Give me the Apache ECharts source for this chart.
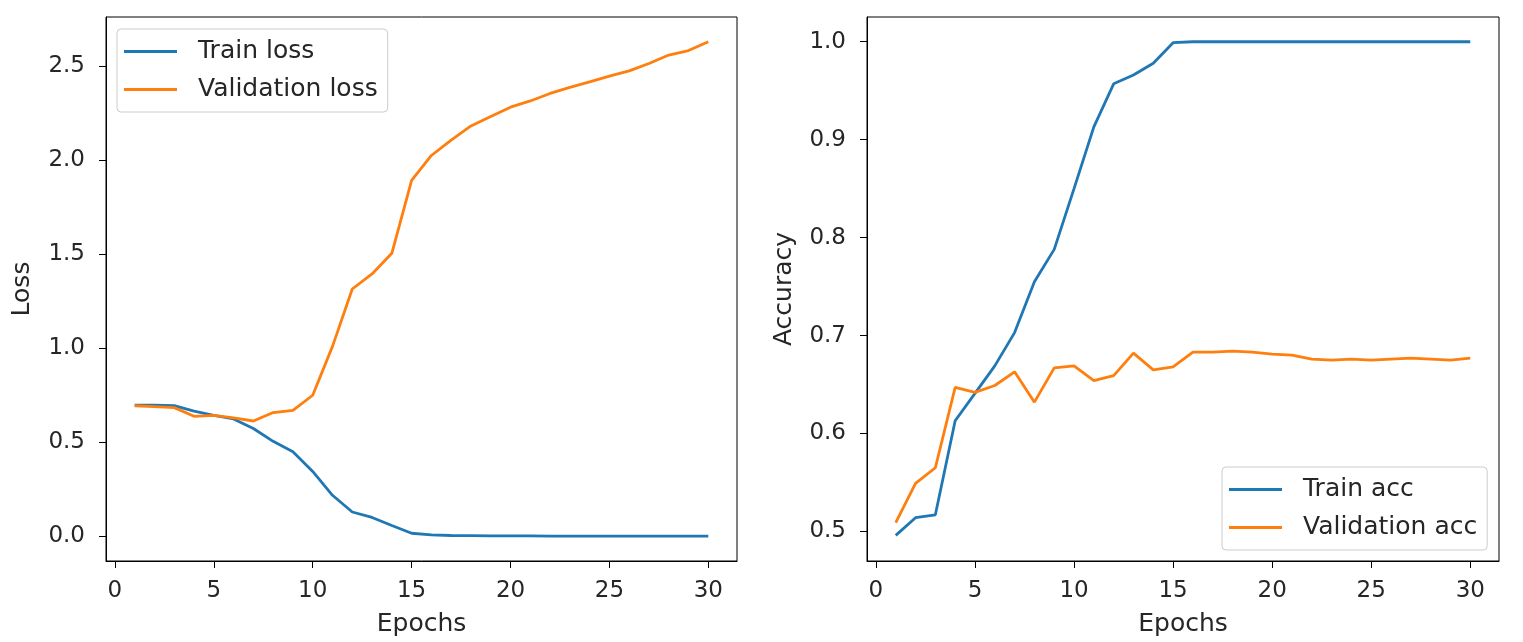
<!DOCTYPE html>
<html>
<head>
<meta charset="utf-8">
<script src="https://cdn.jsdelivr.net/npm/echarts@6/dist/echarts.min.js"></script>
<style>
html,body{margin:0;padding:0;background:#fff;}
#c{width:1523px;height:642px;}
</style>
</head>
<body>
<div id="c"></div>
<script>
const epochs = [1,2,3,4,5,6,7,8,9,10,11,12,13,14,15,16,17,18,19,20,21,22,23,24,25,26,27,28,29,30];
const trainLoss = [0.697,0.697,0.695,0.666,0.643,0.624,0.573,0.505,0.450,0.345,0.218,0.129,0.100,0.057,0.016,0.007,0.004,0.003,0.002,0.002,0.002,0.001,0.001,0.001,0.001,0.001,0.001,0.001,0.001,0.001];
const valLoss = [0.694,0.690,0.684,0.638,0.643,0.630,0.613,0.658,0.670,0.750,1.010,1.315,1.395,1.505,1.893,2.025,2.107,2.182,2.232,2.282,2.315,2.355,2.387,2.417,2.447,2.475,2.514,2.559,2.583,2.630];
const trainAcc = [0.496,0.514,0.517,0.613,0.641,0.669,0.703,0.755,0.788,0.850,0.913,0.957,0.966,0.978,0.999,1.000,1.000,1.000,1.000,1.000,1.000,1.000,1.000,1.000,1.000,1.000,1.000,1.000,1.000,1.000];
const valAcc = [0.509,0.549,0.565,0.647,0.642,0.649,0.663,0.632,0.667,0.669,0.654,0.659,0.682,0.665,0.668,0.683,0.683,0.684,0.683,0.681,0.680,0.676,0.675,0.676,0.675,0.676,0.677,0.676,0.675,0.677];
const xTicks = [0,5,10,15,20,25,30];
const lossTicks = [0.0,0.5,1.0,1.5,2.0,2.5];
const accTicks = [0.5,0.6,0.7,0.8,0.9,1.0];

const FONT = 'DejaVu Sans';
const FS = 23;
const FL = 25;
const TXT = '#262626';
const BLUE = '#1f77b4';
const ORANGE = '#ff7f0e';

function pairs(ys){ return epochs.map((e,i)=>[e, ys[i]]); }

function xAxis(idx){
  return {
    gridIndex: idx, type: 'value', min: -0.45, max: 31.45,
    name: 'Epochs', nameLocation: 'middle', nameGap: 51,
    nameTextStyle: {fontFamily: FONT, fontSize: FL, color: TXT},
    axisLine: {show: true, onZero: false, lineStyle: {color: '#000', width: 1}},
    axisTick: {show: true, length: 7, customValues: xTicks, lineStyle: {color: '#000', width: 1}},
    axisLabel: {customValues: xTicks, margin: 19, fontFamily: FONT, fontSize: FS, color: TXT,
      formatter: v => String(v)},
    splitLine: {show: false}
  };
}
function yAxis(idx, name, min, max, ticks, gap){
  return {
    gridIndex: idx, type: 'value', min: min, max: max,
    name: name, nameLocation: 'middle', nameGap: gap, nameRotate: 90,
    nameTextStyle: {fontFamily: FONT, fontSize: FL, color: TXT},
    axisLine: {show: true, onZero: false, lineStyle: {color: '#000', width: 1}},
    axisTick: {show: true, length: 7, customValues: ticks, lineStyle: {color: '#000', width: 1}},
    axisLabel: {customValues: ticks, margin: 21, fontFamily: FONT, fontSize: FS, color: TXT,
      formatter: v => Number(v).toFixed(1)},
    splitLine: {show: false}
  };
}
function legend(names, left, top){
  return {
    orient: 'vertical', left: left, top: top,
    data: names,
    icon: 'rect', itemWidth: 53, itemHeight: 3, itemGap: 13,
    padding: [10, 10, 10, 7],
    backgroundColor: 'rgba(255,255,255,0.8)',
    borderColor: '#cccccc', borderWidth: 1, borderRadius: 4,
    textStyle: {fontFamily: FONT, fontSize: FL, color: TXT, padding: [0, 0, 0, 16]}
  };
}
function line(name, data, color, xi, yi){
  return {
    name: name, type: 'line', xAxisIndex: xi, yAxisIndex: yi,
    data: pairs(data), showSymbol: false, symbol: 'none',
    lineStyle: {color: color, width: 2.8}, itemStyle: {color: color},
    emphasis: {disabled: true}
  };
}

const chart = echarts.init(document.getElementById('c'), null, {renderer: 'canvas'});
chart.setOption({
  animation: false,
  backgroundColor: '#ffffff',
  grid: [
    {left: 106, width: 631, top: 17, height: 544, show: true, borderColor: '#000', borderWidth: 1, backgroundColor: 'transparent'},
    {left: 867, width: 632, top: 17, height: 544, show: true, borderColor: '#000', borderWidth: 1, backgroundColor: 'transparent'}
  ],
  xAxis: [xAxis(0), xAxis(1)],
  yAxis: [
    yAxis(0, 'Loss', -0.1315, 2.7615, lossTicks, 71),
    yAxis(1, 'Accuracy', 0.4698, 1.02525, accTicks, 70)
  ],
  legend: [
    legend(['Train loss', 'Validation loss'], 117, 29),
    legend(['Train acc', 'Validation acc'], 1222, 467)
  ],
  series: [
    line('Train loss', trainLoss, BLUE, 0, 0),
    line('Validation loss', valLoss, ORANGE, 0, 0),
    line('Train acc', trainAcc, BLUE, 1, 1),
    line('Validation acc', valAcc, ORANGE, 1, 1)
  ]
});
</script>
</body>
</html>
